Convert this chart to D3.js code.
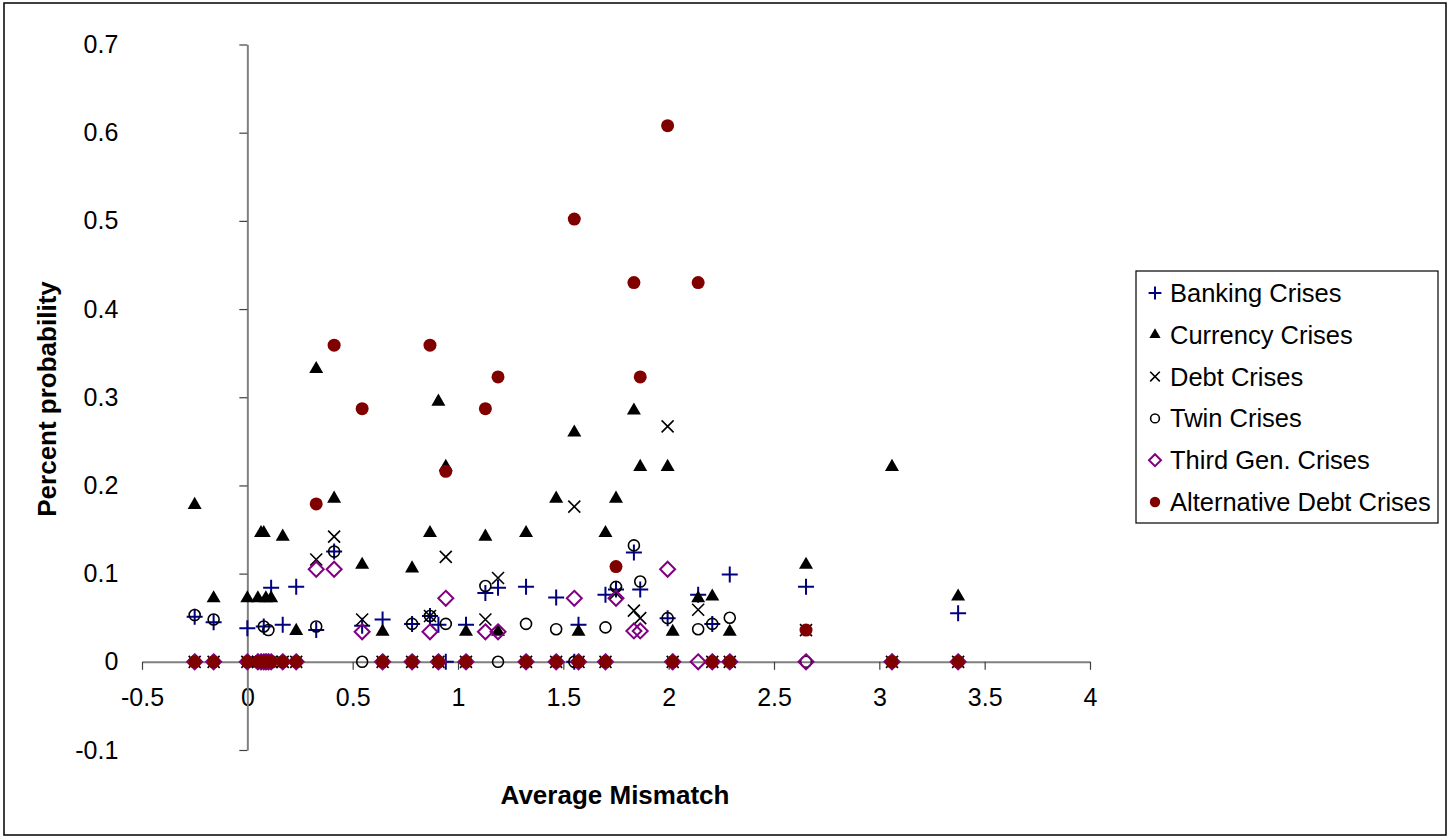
<!DOCTYPE html>
<html>
<head>
<meta charset="utf-8">
<script src="https://cdn.jsdelivr.net/npm/d3@7"></script>
<style>
  html, body { margin: 0; padding: 0; background: #fff; }
  svg { display: block; font-family: "Liberation Sans", Arial, sans-serif; }
</style>
</head>
<body>
<svg id="chart" width="1453" height="838"></svg>
<script>
// ---- data ----
const mismatch = [-0.25,-0.16,0.0,0.05,0.065,0.078,0.088,0.10,0.113,0.168,0.232,0.327,0.412,0.545,0.642,0.782,0.867,0.907,0.942,1.038,1.13,1.19,1.323,1.466,1.552,1.572,1.70,1.75,1.835,1.865,1.995,2.019,2.14,2.207,2.29,2.652,3.06,3.374];
const banking  = [0.051,0.045,0.038,0,0,0.040,0,0,0.084,0.042,0.085,0.036,0.125,0.041,0.048,0.043,0.052,0.042,0,0.042,0.078,0.084,0.085,0.073,0,0.042,0.076,0.082,0.124,0.082,0.0495,0,0.076,0.043,0.099,0.085,0,0.055];
const currency = [0.178,0.072,0.072,0.072,0.146,0.146,0.072,0,0.072,0.142,0.035,0.332,0.185,0.110,0.034,0.106,0.146,0.295,0.221,0.034,0.142,0.034,0.146,0.185,0.260,0.034,0.146,0.185,0.285,0.221,0.221,0.034,0.072,0.074,0.034,0.110,0.221,0.074];
const debt     = [0,0,0,0,0,0,0,0,0,0,0,0.116,0.142,0.048,0,0,0.052,0,0.119,0,0.048,0.095,0,0,0.176,0,0,0.078,0.058,0.0495,0.267,0,0.059,0,0,0.036,0,0];
const twin     = [0.053,0.048,0,0,0,0.040,0,0.036,0,0,0,0.040,0.125,0,0,0.043,0.052,0,0.043,0,0.086,0,0.043,0.037,0,0,0.039,0.085,0.132,0.091,0.0495,0,0.037,0.043,0.050,0,0,0];
const thirdGen = [0,0,0,0,0,0,0,0,0,0,0,0.105,0.105,0.034,0,0,0.034,0,0.072,0,0.034,0.034,0,0,0.072,0,0,0.072,0.035,0.035,0.105,0,0,0,0,0,0,0];
const altDebt  = [0,0,0,0,0,0,0,0,0,0,0,0.179,0.359,0.287,0,0,0.359,0,0.216,0,0.287,0.323,0,0,0.502,0,0,0.108,0.430,0.323,0.608,0,0.430,0,0,0.036,0,0];
const seriesNames = ["Banking Crises","Currency Crises","Debt Crises","Twin Crises","Third Gen. Crises","Alternative Debt Crises"];
const xTicks = [-0.5,0,0.5,1,1.5,2,2.5,3,3.5,4];
const yTicks = [-0.1,0,0.1,0.2,0.3,0.4,0.5,0.6,0.7];

// ---- drawing ----
const svg = d3.select("#chart");
svg.append("rect").attr("x",4).attr("y",3).attr("width",1442).attr("height",832)
  .attr("fill","#fff").attr("stroke","#000").attr("stroke-width",1.5);

const x = d3.scaleLinear().domain([-0.5,4]).range([142,1090]);
const y = d3.scaleLinear().domain([-0.1,0.7]).range([750,44.5]);
const fmt = d => String(+(+d).toFixed(1));

// x axis at y=0
const gx = svg.append("g").attr("transform",`translate(0,${y(0)})`)
  .call(d3.axisBottom(x).tickValues(xTicks).tickFormat(fmt).tickSize(8).tickSizeOuter(0).tickPadding(18));
// y axis at x=0
const gy = svg.append("g").attr("transform",`translate(${x(0)},0)`)
  .call(d3.axisLeft(y).tickValues(yTicks).tickFormat(fmt).tickSize(8).tickSizeOuter(0).tickPadding(121));
[gx,gy].forEach(g=>{
  g.select(".domain").attr("stroke","#808080").attr("stroke-width",2);
  g.selectAll(".tick line").attr("stroke","#404040").attr("stroke-width",1.2);
  g.selectAll(".tick text").attr("fill","#000").style("font-size","25px").style("font-family","'Liberation Sans', Arial, sans-serif");
});

// axis titles
svg.append("text").attr("x",615).attr("y",804).attr("text-anchor","middle")
  .style("font-size","26px").style("font-weight","bold").text("Average Mismatch");
svg.append("text").attr("transform","translate(56,399) rotate(-90)").attr("text-anchor","middle")
  .style("font-size","26px").style("font-weight","bold").text("Percent probability");

// marker painters
const painters = [
  (g,s)=>g.append("path").attr("d",`M${-8*s},0H${8*s}M0,${-8*s}V${8*s}`).attr("stroke","#000080").attr("stroke-width",2).attr("fill","none"),
  (g,s)=>g.append("path").attr("d",d3.symbol(d3.symbolTriangle, 85*s*s)()).attr("fill","#000"),
  (g,s)=>g.append("path").attr("d",`M${-6*s},${-6*s}L${6*s},${6*s}M${-6*s},${6*s}L${6*s},${-6*s}`).attr("stroke","#000").attr("stroke-width",1.6).attr("fill","none"),
  (g,s)=>g.append("circle").attr("r",5.5*s).attr("stroke","#000").attr("stroke-width",1.6).attr("fill","none"),
  (g,s)=>g.append("path").attr("d",`M0,${-7.5*s}L${7.5*s},0L0,${7.5*s}L${-7.5*s},0Z`).attr("stroke","#800080").attr("stroke-width",2).attr("fill","none"),
  (g,s)=>g.append("circle").attr("r",6.5*s).attr("fill","#800000")
];
const allSeries = [banking,currency,debt,twin,thirdGen,altDebt];

allSeries.forEach((vals,si)=>{
  const layer = svg.append("g").attr("class","series-"+si);
  vals.forEach((v,i)=>{
    const g = layer.append("g").attr("transform",`translate(${x(mismatch[i])},${y(v)})`);
    painters[si](g,1);
  });
});

// legend
const lg = svg.append("g");
lg.append("rect").attr("x",1136).attr("y",271).attr("width",302).attr("height",252)
  .attr("fill","#fff").attr("stroke","#000").attr("stroke-width",1.2);
seriesNames.forEach((name,i)=>{
  const cy = 293 + i*41.8;
  const g = lg.append("g").attr("transform",`translate(1155,${cy})`);
  painters[i](g,0.8);
  lg.append("text").attr("x",1170).attr("y",cy).attr("dy","0.35em")
    .style("font-size","25.5px").attr("fill","#000").text(name);
});
</script>
</body>
</html>
